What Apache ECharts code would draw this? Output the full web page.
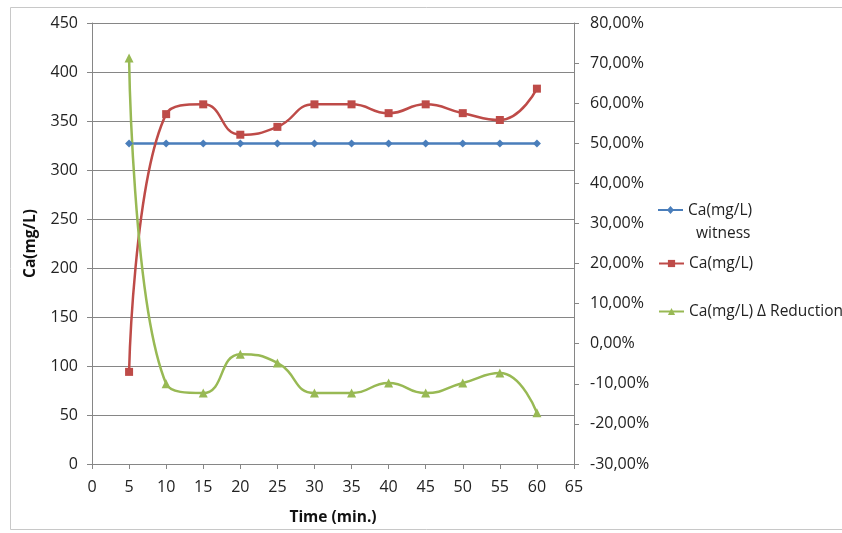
<!DOCTYPE html>
<html><head><meta charset="utf-8">
<script src="https://cdn.jsdelivr.net/npm/echarts@6/dist/echarts.min.js"></script>
<style>html,body{margin:0;padding:0;background:#fff}#c{width:842px;height:533px}</style>
</head><body><div id="c"></div>
<script>
const times = [5,10,15,20,25,30,35,40,45,50,55,60];
const witness = [327,327,327,327,327,327,327,327,327,327,327,327];
const caValues = [94,357,367,336,344,367,367,358,367,358,351,383];
const reductionPct = [71.3,-10.0,-12.3,-2.6,-4.8,-12.3,-12.3,-9.8,-12.3,-9.8,-7.3,-17.2];
const names = ['Ca(mg/L) witness','Ca(mg/L)','Ca(mg/L) Δ Reduction'];
const colors = ['#4a7ebb','#be4b48','#98b954'];

const pair = (xs, ys) => xs.map((x,i)=>[x, ys[i]]);
const FONT = '"Open Sans", sans-serif';
const axisLineGray = {lineStyle:{color:'#868686',width:1}};
const lbl = {color:'#222', fontSize:16, fontFamily:FONT};

const chart = echarts.init(document.getElementById('c'), null, {renderer:'canvas'});
const legendBase = {orient:'vertical', left:653, itemWidth:25, itemHeight:9,
  textStyle:{color:'#222', fontSize:15.5, fontFamily:FONT, lineHeight:23}, selectedMode:false};
// icon for two-line legend entry: line + diamond at top, invisible point at bottom to set box
const witnessIcon = 'path://M0,10 L25,10 L25,12 L0,12 Z M12.5,7 L16,11 L12.5,15 L9,11 Z M0,46 L0.01,46 L0.01,46.01 Z M25,0 L25.01,0 L25.01,0.01 Z';
chart.setOption({
  animation:false,
  backgroundColor:'#fff',
  graphic:[{type:'rect', shape:{x:10.5,y:7.5,width:850,height:522}, style:{fill:'none',stroke:'#c8c8c8',lineWidth:1}, silent:true}],
  grid:{left:92, right:268, top:23, bottom:69},
  legend:[
    Object.assign({}, legendBase, {top:194, itemHeight:46, data:[{name:names[0], icon:witnessIcon}], formatter:()=> 'Ca(mg/L)\n  witness'}),
    Object.assign({}, legendBase, {top:247, data:[names[1]]}),
    Object.assign({}, legendBase, {top:295, data:[names[2]]})
  ],
  xAxis:{type:'value', min:0, max:65, interval:5,
    name:'Time (min.)', nameLocation:'middle', nameGap:46,
    nameTextStyle:{fontWeight:'bold', fontSize:15.5, color:'#111', fontFamily:FONT},
    axisLine:Object.assign({show:true}, axisLineGray), axisTick:{show:true, length:5, lineStyle:{color:'#868686'}},
    axisLabel:Object.assign({margin:15}, lbl), splitLine:{show:false}},
  yAxis:[
    {type:'value', min:0, max:450, interval:50, position:'left',
     name:'Ca(mg/L)', nameLocation:'middle', nameGap:53, nameRotate:90,
     nameTextStyle:{fontWeight:'bold', fontSize:15.5, color:'#111', fontFamily:FONT},
     axisLine:Object.assign({show:true}, axisLineGray), axisTick:{show:true, length:5, lineStyle:{color:'#868686'}},
     axisLabel:Object.assign({margin:14}, lbl),
     splitLine:{show:true, lineStyle:{color:'#868686', width:1}}},
    {type:'value', min:-30, max:80, interval:10, position:'right',
     axisLine:Object.assign({show:true}, axisLineGray), axisTick:{show:true, length:5, lineStyle:{color:'#868686'}},
     axisLabel:Object.assign({margin:16, formatter:v=>v.toFixed(2).replace('.',',')+'%'}, lbl),
     splitLine:{show:false}}
  ],
  series:[
    {name:names[0], type:'line', yAxisIndex:0, data:pair(times,witness), smooth:0.5,
     symbol:'diamond', symbolSize:8, color:colors[0], lineStyle:{width:2.5, color:colors[0]}, itemStyle:{color:colors[0]}},
    {name:names[1], type:'line', yAxisIndex:0, data:pair(times,caValues), smooth:0.5,
     symbol:'rect', symbolSize:8, color:colors[1], lineStyle:{width:2.5, color:colors[1]}, itemStyle:{color:colors[1]}},
    {name:names[2], type:'line', yAxisIndex:1, data:pair(times,reductionPct), smooth:0.5,
     symbol:'triangle', symbolSize:9, color:colors[2], lineStyle:{width:2.5, color:colors[2]}, itemStyle:{color:colors[2]}}
  ]
});
</script></body></html>
